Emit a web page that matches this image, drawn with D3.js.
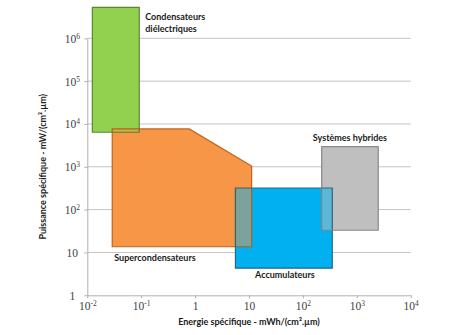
<!DOCTYPE html>
<html><head><meta charset="utf-8">
<script src="https://cdn.jsdelivr.net/npm/d3@7/dist/d3.min.js"></script>
<style>body{margin:0;background:#fff}svg{display:block}</style>
</head><body>
<script>
// ---- data ----
const xTicks = [1e-2, 1e-1, 1, 10, 1e2, 1e3, 1e4];
const xTickLabels = [["10","-2"],["10","-1"],["1",""],["10",""],["10","2"],["10","3"],["10","4"]];
const yTicks = [1, 10, 1e2, 1e3, 1e4, 1e5, 1e6];
const yTickLabels = [["1",""],["10",""],["10","2"],["10","3"],["10","4"],["10","5"],["10","6"]];
const xTitle = "Energie spécifique - mWh/(cm².µm)";
const yTitle = "Puissance spécifique  - mW/(cm².µm)";

// regions: vertices [energie, puissance]
const condensateurs = [[0.0124, 6400], [0.0124, 5.3e6], [0.092, 5.3e6], [0.092, 6400]];
const supercondensateurs = [[0.029, 13.6], [0.029, 7640], [0.78, 7640], [11.2, 1045], [11.2, 13.6]];
const accumulateurs = [[5.6, 4.3], [5.6, 320], [351, 320], [351, 4.3]];
const hybrides = [[223, 33], [223, 2950], [2500, 2950], [2500, 33]];

const regions = [
  {name: ["Condensateurs", "diélectriques"], pts: condensateurs, fill: "#92d050", stroke: "#4f7b27", label: "right-top"},
  {name: ["Supercondensateurs"], pts: supercondensateurs, fill: "#f79646", stroke: "#b35a14", label: "below-left"},
  {name: ["Accumulateurs"], pts: accumulateurs, fill: "#00b0f0", stroke: "#215e6e", label: "below-center"},
  {name: ["Systèmes hybrides"], pts: hybrides, fill: "#bfbfbf", stroke: "#808080", label: "above-center"}
];

// ---- chart ----
const W = 454, H = 335;
const svg = d3.select("body").append("svg").attr("width", W).attr("height", H);
const x = d3.scaleLog().domain([1e-2, 1e4]).range([87.3, 410.7]);
const y = d3.scaleLog().domain([1, 1e6]).range([295.3, 38.3]);

const gridColor = "#c3c3c3";
const tickFont = "'Liberation Serif', serif";
const labFont = "Lato, 'Open Sans', sans-serif";

// gridlines
svg.append("g").selectAll("line").data(yTicks.slice(1)).join("line")
  .attr("x1", x.range()[0]).attr("x2", x.range()[1])
  .attr("y1", d => y(d)).attr("y2", d => y(d))
  .attr("stroke", gridColor).attr("stroke-width", 1);

// axes
const xAxis = svg.append("g").attr("transform", `translate(0,${y(1)})`)
  .call(d3.axisBottom(x).tickValues(xTicks).tickSize(3).tickSizeOuter(0).tickFormat(""));
const yAxis = svg.append("g").attr("transform", `translate(${x(1e-2)},0)`)
  .call(d3.axisLeft(y).tickValues(yTicks).tickSize(3).tickSizeOuter(0).tickFormat(""));
[xAxis, yAxis].forEach(a => {
  a.select(".domain").attr("stroke", "#b0b0b0");
  a.selectAll(".tick line").attr("stroke", "#b0b0b0");
});

function supLabel(sel, lab) {
  sel.append("tspan").text(lab[0]);
  if (lab[1]) sel.append("tspan").attr("dy", -4).attr("font-size", 7.5).text(lab[1]);
}
xAxis.selectAll(".tick").each(function(d, i) {
  const t = d3.select(this).append("text").attr("y", 15).attr("text-anchor", "middle")
    .attr("fill", "#404040").attr("font-family", tickFont).attr("font-size", 11.5);
  supLabel(t, xTickLabels[i]);
});
yAxis.selectAll(".tick").each(function(d, i) {
  const t = d3.select(this).append("text").attr("x", -15).attr("y", 4).attr("text-anchor", "middle")
    .attr("fill", "#404040").attr("font-family", tickFont).attr("font-size", 11.5);
  supLabel(t, yTickLabels[i]);
});

// axis titles
svg.append("text").attr("x", (x(1e-1) + x(1e3)) / 2 - 0).attr("y", 325)
  .attr("text-anchor", "middle").attr("font-family", labFont).attr("font-weight", "bold")
  .attr("font-size", 9).attr("fill", "#1a1a1a").text(xTitle);
svg.append("text").attr("transform", `translate(46,${(y(10) + y(1e5)) / 2 - 0}) rotate(-90)`)
  .attr("text-anchor", "middle").attr("font-family", labFont).attr("font-weight", "bold")
  .attr("font-size", 9).attr("fill", "#1a1a1a").text(yTitle);

// shapes
const line = d3.line().x(d => x(d[0])).y(d => y(d[1]));
const defs = svg.append("defs");
regions.forEach((r, i) => {
  defs.append("clipPath").attr("id", "clip" + i).append("path").attr("d", line(r.pts) + "Z");
});
const shapes = svg.append("g");
regions.forEach(r => {
  shapes.append("path").attr("d", line(r.pts) + "Z").attr("fill", r.fill);
});
// blend overlaps: re-draw earlier shapes at half opacity inside later ones
regions.forEach((r, i) => {
  regions.forEach((s, j) => {
    if (j > i) {
      shapes.append("path").attr("d", line(r.pts) + "Z").attr("fill", r.fill)
        .attr("fill-opacity", 0.5).attr("clip-path", `url(#clip${j})`);
    }
  });
});
regions.forEach(r => {
  shapes.append("path").attr("d", line(r.pts) + "Z").attr("fill", "none")
    .attr("stroke", r.stroke).attr("stroke-width", 1.2).attr("stroke-opacity", 0.9);
});

// labels
regions.forEach(r => {
  const xs = r.pts.map(p => x(p[0])), ys = r.pts.map(p => y(p[1]));
  const x0 = d3.min(xs), x1 = d3.max(xs), y0 = d3.min(ys), y1 = d3.max(ys);
  let lx, ly, anchor;
  if (r.label === "right-top") { lx = x1 + 6; ly = y0 + 13; anchor = "start"; }
  else if (r.label === "below-left") { lx = x0 + 2; ly = y1 + 14; anchor = "start"; }
  else if (r.label === "below-center") { lx = (x0 + x1) / 2 + 1; ly = y1 + 10; anchor = "middle"; }
  else { lx = (x0 + x1) / 2; ly = y0 - 5.5; anchor = "middle"; }
  const t = svg.append("text").attr("x", lx).attr("y", ly).attr("text-anchor", anchor)
    .attr("font-family", labFont).attr("font-weight", "bold").attr("font-size", 9).attr("fill", "#1a1a1a");
  r.name.forEach((n, k) => t.append("tspan").attr("x", lx).attr("dy", k ? 11.5 : 0).text(n));
});
</script>
</body></html>
